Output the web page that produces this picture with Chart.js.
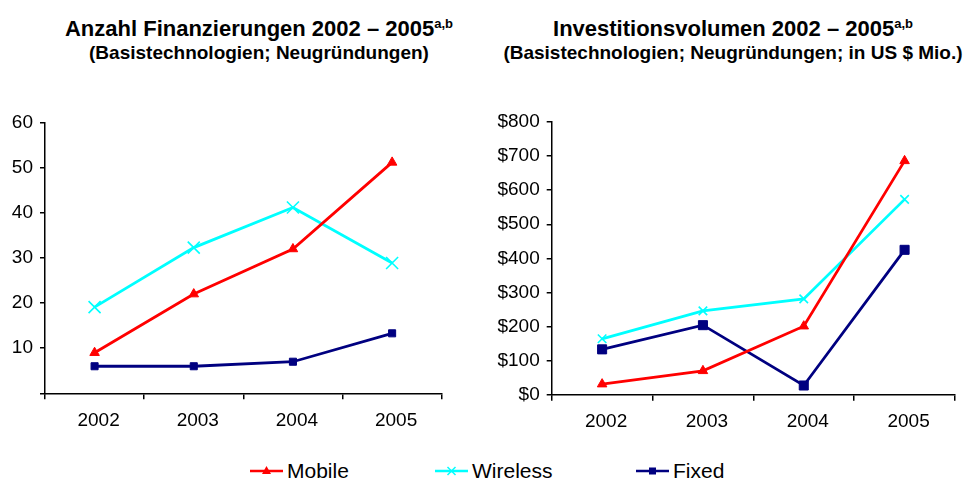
<!DOCTYPE html>
<html>
<head>
<meta charset="utf-8">
<script src="https://cdn.jsdelivr.net/npm/chart.js@4.4.1/dist/chart.umd.min.js"></script>
<style>
  html, body { margin: 0; padding: 0; background: #fff; }
  body { width: 968px; height: 481px; position: relative; overflow: hidden; font-family: 'Liberation Sans', Arial, sans-serif; color: #000; }
  .ttl { position: absolute; text-align: center; font-weight: bold; white-space: nowrap; }
  .ttl .main { font-size: 22px; line-height: 24px; }
  .ttl .sub { font-size: 19px; line-height: 24px; }
  .ttl sup { font-size: 13px; vertical-align: 8px; line-height: 0; }
  canvas { position: absolute; }
  #legend { position: absolute; top: 458px; left: 0; width: 968px; height: 26px; }
  .li { position: absolute; top: 0; display: flex; align-items: center; font-size: 21px; height: 26px; }
  .li svg { margin-right: 4px; }
</style>
</head>
<body>
<div class="ttl" style="left:57px;width:404px;top:17px">
  <div class="main">Anzahl Finanzierungen 2002 – 2005<sup>a,b</sup></div>
  <div class="sub">(Basistechnologien; Neugründungen)</div>
</div>
<div class="ttl" style="left:493px;width:480px;top:17px">
  <div class="main">Investitionsvolumen 2002 – 2005<sup>a,b</sup></div>
  <div class="sub">(Basistechnologien; Neugründungen; in US $ Mio.)</div>
</div>
<canvas id="left" width="470" height="340" style="left:0;top:100px;width:470px;height:340px"></canvas>
<canvas id="right" width="488" height="340" style="left:480px;top:100px;width:488px;height:340px"></canvas>
<div id="legend"></div>
<script>
// data
const years = ['2002', '2003', '2004', '2005'];
const countMobile   = [9, 22, 32, 51.2];
const countWireless = [19.1, 32.3, 41.2, 28.9];
const countFixed    = [6, 6, 7, 13.3];
const volMobile   = [31, 70, 201, 686];
const volWireless = [164, 246, 281, 573];
const volFixed    = [133, 204, 27, 425];
const countTicks = { min: 0, max: 60, step: 10 };
const volTicks   = { min: 0, max: 800, step: 100 };

const RED = '#ff0000', CYAN = '#00ffff', NAVY = '#000080';
const font = { family: "'Liberation Sans', Arial, sans-serif", size: 19 };

function series(label, data, color, style, r, bw) {
  return { label, data, borderColor: color, backgroundColor: color, borderWidth: 2.8,
    pointStyle: style, pointRadius: r, pointHoverRadius: r, pointBorderWidth: bw,
    pointBackgroundColor: color, pointBorderColor: color, tension: 0 };
}

function makeChart(id, sets, rng, fmt, yW, xH, pad) {
  const ctx = document.getElementById(id).getContext('2d');
  return new Chart(ctx, {
    type: 'line',
    data: { labels: years, datasets: sets },
    options: {
      responsive: false, animation: false,
      layout: { padding: pad },
      plugins: { legend: { display: false }, tooltip: { enabled: false } },
      scales: {
        x: {
          offset: true,
          grid: { offset: true, drawOnChartArea: false, drawTicks: true, tickLength: 6, color: '#000', lineWidth: 1.5 },
          border: { display: true, color: '#000', width: 1.5 },
          ticks: { color: '#000', font, padding: 10, labelOffset: 4, maxRotation: 0 },
          afterFit: s => { s.height = xH; }
        },
        y: {
          min: rng.min, max: rng.max,
          grid: { drawOnChartArea: false, drawTicks: true, tickLength: 5, color: '#000', lineWidth: 1.5 },
          border: { display: true, color: '#000', width: 1.5 },
          ticks: { stepSize: rng.step, color: '#000', font, padding: 7, callback: fmt },
          afterFit: s => { s.width = yW; }
        }
      }
    }
  });
}

makeChart('left', [
  series('Mobile', countMobile, RED, 'triangle', 5.5, 1),
  series('Wireless', countWireless, CYAN, 'crossRot', 8.5, 1.6),
  series('Fixed', countFixed, NAVY, 'rect', 5, 1)
], countTicks, v => v === 0 ? '' : v, 45, 46.7, { top: 22.7, right: 28.3, left: 0, bottom: 0 });

makeChart('right', [
  series('Mobile', volMobile, RED, 'triangle', 5.5, 1),
  series('Wireless', volWireless, CYAN, 'crossRot', 6, 1.6),
  series('Fixed', volFixed, NAVY, 'rect', 6.4, 1)
], volTicks, v => '$' + v, 71.7, 45.3, { top: 22, right: 13, left: 0, bottom: 0 });

// shared legend
const legendItems = [
  { label: 'Mobile', color: RED, x: 250, mark: '<polygon points="16.5,8 21,16 12,16" fill="' + RED + '"/>' },
  { label: 'Wireless', color: CYAN, x: 435, mark: '<path d="M12.5,9 L20.5,17 M20.5,9 L12.5,17" stroke="' + CYAN + '" stroke-width="1.5"/>' },
  { label: 'Fixed', color: NAVY, x: 636, mark: '<rect x="13" y="9.5" width="7" height="7" fill="' + NAVY + '"/>' }
];
const lg = document.getElementById('legend');
legendItems.forEach(it => {
  const d = document.createElement('div');
  d.className = 'li';
  d.style.left = it.x + 'px';
  d.innerHTML = '<svg width="33" height="26"><line x1="0" y1="13" x2="33" y2="13" stroke="' + it.color + '" stroke-width="2.6"/>' + it.mark + '</svg><span>' + it.label + '</span>';
  lg.appendChild(d);
});
</script>
</body>
</html>
